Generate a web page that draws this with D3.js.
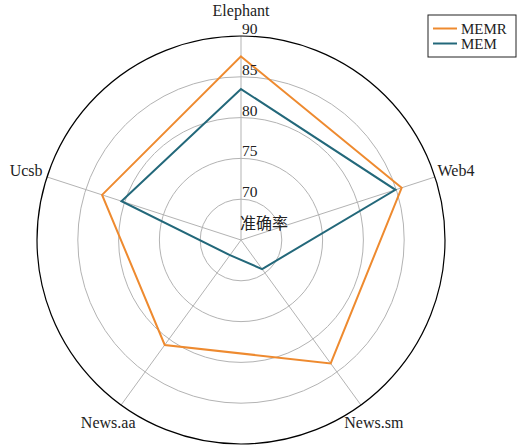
<!DOCTYPE html>
<html><head><meta charset="utf-8">
<script src="https://cdn.jsdelivr.net/npm/d3@7"></script>
<style>body{margin:0;background:#fff}svg{display:block}</style>
</head><body>
<script>
const categories = ["Elephant", "Web4", "News.sm", "News.aa", "Ucsb"];
const seriesNames = ["MEMR", "MEM"];
const memrValues = [87.5, 85.7, 83.7, 80.9, 82.9];
const memValues = [83.5, 84.9, 69.4, 67.3, 80.4];
const tickValues = [70, 75, 80, 85, 90];
const centerLabel = "准确率";

const W = 530, H = 447;
const cx = 241, cy = 240, R = 204;
const colors = {MEMR: "#EE8A2F", MEM: "#23687A"};
const serif = "'Liberation Serif','DejaVu Serif',serif";

const svg = d3.select("body").append("svg").attr("width", W).attr("height", H);
const g = svg.append("g").attr("transform", `translate(${cx},${cy})`);

const r = d3.scaleLinear().domain([65, 90]).range([0, R]);
const angle = d3.scalePoint().domain(categories).range([0, 2 * Math.PI * (categories.length - 1) / categories.length]);
const theta = c => angle(c) - Math.PI / 2;

// rings
g.selectAll("circle.ring").data(tickValues.slice(0, -1)).enter().append("circle")
  .attr("r", d => r(d)).attr("fill", "none").attr("stroke", "#b3b3b3").attr("stroke-width", 1);

// spokes
g.selectAll("line.spoke").data(categories).enter().append("line")
  .attr("x1", 0).attr("y1", 0)
  .attr("x2", d => R * Math.cos(theta(d))).attr("y2", d => R * Math.sin(theta(d)))
  .attr("stroke", "#b3b3b3").attr("stroke-width", 1);

// outer circle
g.append("circle").attr("r", r(90)).attr("fill", "none").attr("stroke", "#000").attr("stroke-width", 1.2);

// series
const line = d3.lineRadial().angle(d => angle(d.c)).radius(d => r(d.v)).curve(d3.curveLinearClosed);
[["MEMR", memrValues], ["MEM", memValues]].forEach(([name, vals]) => {
  g.append("path")
    .datum(categories.map((c, i) => ({c, v: vals[i]})))
    .attr("d", line).attr("fill", "none").attr("stroke", colors[name]).attr("stroke-width", 2)
    .attr("stroke-linejoin", "miter");
});

// tick labels
g.selectAll("text.tick").data(tickValues).enter().append("text")
  .attr("x", 1).attr("y", d => -r(d) - 2)
  .attr("font-family", serif).attr("font-size", 15.5).attr("fill", "#222")
  .text(d => d);

// category labels
const labelR = c => Math.abs(Math.cos(theta(c))) < 0.1 ? 230 : 226;
g.selectAll("text.cat").data(categories).enter().append("text")
  .attr("x", d => labelR(d) * Math.cos(theta(d)))
  .attr("y", d => labelR(d) * Math.sin(theta(d)))
  .attr("text-anchor", "middle").attr("dominant-baseline", "central")
  .attr("font-family", serif).attr("font-size", 16).attr("fill", "#222")
  .text(d => d);

// center label
g.append("text").attr("x", -1).attr("y", -11)
  .attr("font-family", "'Noto Sans CJK SC',sans-serif").attr("font-size", 16).attr("fill", "#222")
  .text(centerLabel);

// legend
const lg = svg.append("g").attr("transform", "translate(428,15)");
lg.append("rect").attr("width", 88).attr("height", 42).attr("fill", "#fff").attr("stroke", "#222").attr("stroke-width", 1);
seriesNames.forEach((n, i) => {
  const y = 13.5 + i * 15;
  lg.append("line").attr("x1", 5).attr("x2", 29).attr("y1", y).attr("y2", y)
    .attr("stroke", colors[n]).attr("stroke-width", 2);
  lg.append("text").attr("x", 33).attr("y", y + 5)
    .attr("font-family", serif).attr("font-size", 15).attr("fill", "#222").text(n);
});
</script>
</body></html>
